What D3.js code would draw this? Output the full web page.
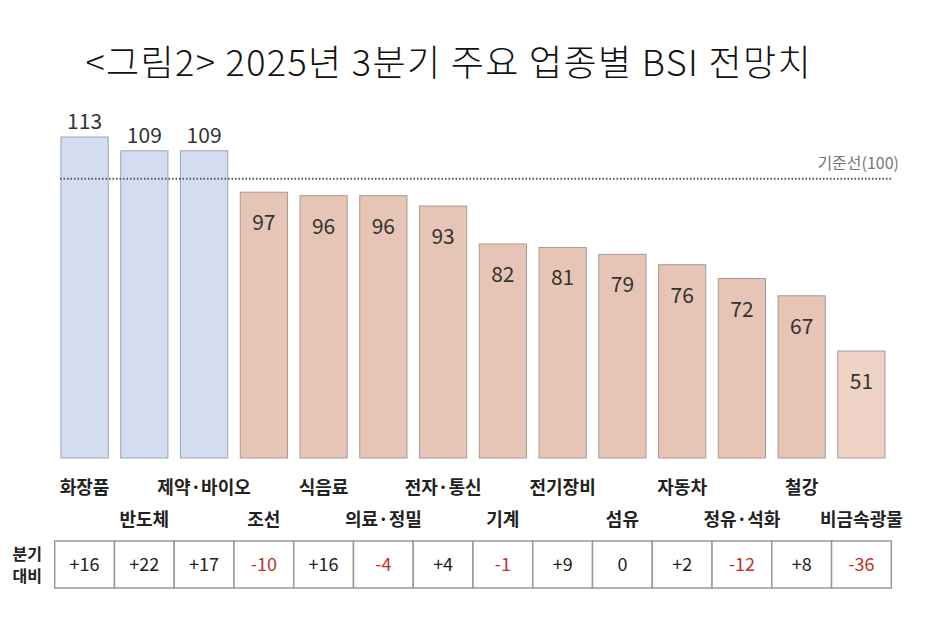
<!DOCTYPE html>
<html><head><meta charset="utf-8">
<script src="https://cdn.jsdelivr.net/npm/d3@7"></script>
<style>body{margin:0;background:#fff}text{font-family:"Noto Sans CJK KR","Noto Sans",sans-serif}</style>
</head><body><div id="chart"></div>
<script>
var width = 950, height = 628;

var categories = ["화장품","반도체","제약·바이오","조선","식음료","의료·정밀","전자·통신","기계","전기장비","섬유","자동차","정유·석화","철강","비금속광물"];
var values = [113,109,109,97,96,96,93,82,81,79,76,72,67,51];
var changes = ["+16","+22","+17","-10","+16","-4","+4","-1","+9","0","+2","-12","+8","-36"];
var baseline = 100;

var svg = d3.select("#chart").append("svg").attr("width", width).attr("height", height);

svg.append("text").attr("x", 448).attr("y", 76).attr("text-anchor", "middle")
  .attr("font-size", 36).attr("font-weight", 300).attr("fill", "#111")
  .attr("textLength", 725).attr("lengthAdjust", "spacing")
  .text("<그림2> 2025년 3분기 주요 업종별 BSI 전망치");

var x = d3.scaleBand().domain(categories).range([55, 891]).paddingInner(0.21).paddingOuter(0.1);
var y = d3.scaleLinear().domain([20, 113]).range([458, 137]);

function fillOf(d, i) {
  if (d >= baseline) return "#d4dcef";
  return i == values.length - 1 ? "#edd2c5" : "#e6c5b6";
}

svg.selectAll(".bar").data(values).enter().append("rect")
  .attr("x", (d, i) => x(categories[i]))
  .attr("y", d => y(d))
  .attr("width", x.bandwidth())
  .attr("height", d => y.range()[0] - y(d))
  .attr("fill", fillOf)
  .attr("stroke", (d, i) => d >= baseline ? "#9aa3b5" : "#a89a94")
  .attr("stroke-width", 1);

// reference line
svg.append("line").attr("x1", 60).attr("x2", 893)
  .attr("y1", y(baseline) - 3).attr("y2", y(baseline) - 3)
  .attr("stroke", "#555").attr("stroke-width", 2).attr("stroke-dasharray", "1.5,2");
svg.append("text").attr("x", 899).attr("y", y(baseline) - 13).attr("text-anchor", "end")
  .attr("font-size", 16).attr("fill", "#777").text("기준선(100)");

// value labels
svg.selectAll(".val").data(values).enter().append("text")
  .attr("x", (d, i) => x(categories[i]) + x.bandwidth() / 2)
  .attr("y", d => d >= baseline ? y(d) - 8 : y(d) + 38)
  .attr("text-anchor", "middle").attr("font-size", 21).attr("fill", "#333")
  .text(d => d);

// category labels, alternating rows
svg.selectAll(".cat").data(categories).enter().append("text")
  .attr("x", d => x(d) + x.bandwidth() / 2)
  .attr("y", (d, i) => i % 2 == 0 ? 494 : 526)
  .attr("text-anchor", "middle").attr("font-size", 18).attr("font-weight", "bold").attr("fill", "#222")
  .text(d => d);

// change table
var step = x.step();
svg.selectAll(".cell").data(changes).enter().append("rect")
  .attr("x", (d, i) => x(categories[i]) + x.bandwidth() / 2 - step / 2)
  .attr("y", 541).attr("width", step).attr("height", 47)
  .attr("fill", "#fff").attr("stroke", "#999").attr("stroke-width", 1.5);
svg.selectAll(".chg").data(changes).enter().append("text")
  .attr("x", (d, i) => x(categories[i]) + x.bandwidth() / 2)
  .attr("y", 571).attr("text-anchor", "middle").attr("font-size", 18)
  .attr("fill", d => d[0] == "-" ? "#c0302a" : "#222")
  .text(d => d);
svg.append("text").attr("x", 42).attr("y", 560).attr("text-anchor", "end")
  .attr("font-size", 16).attr("font-weight", "bold").attr("fill", "#222").text("분기");
svg.append("text").attr("x", 42).attr("y", 582).attr("text-anchor", "end")
  .attr("font-size", 16).attr("font-weight", "bold").attr("fill", "#222").text("대비");
</script></body></html>
